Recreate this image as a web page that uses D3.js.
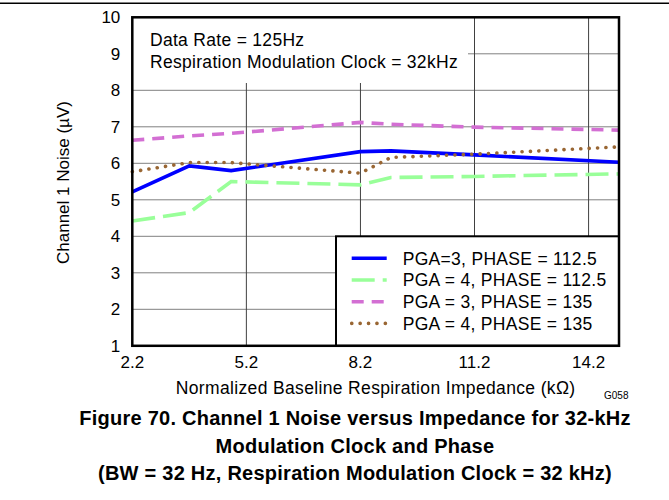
<!DOCTYPE html>
<html>
<head>
<meta charset="utf-8">
<script src="https://cdn.jsdelivr.net/npm/d3@7"></script>
<style>
  body { margin: 0; background: #fff; }
  svg { font-family: "Liberation Sans", Arial, sans-serif; }
</style>
</head>
<body>
<div id="chart"></div>
<script>
// values
var xTicks = [2.2, 5.2, 8.2, 11.2, 14.2];
var yTicks = [1, 2, 3, 4, 5, 6, 7, 8, 9, 10];
var impedance = [2.2, 3.7, 4.8, 8.2, 9.0, 11.2, 15.0];
var pga3Phase112 = [5.22, 5.93, 5.80, 6.32, 6.34, 6.23, 6.03];
var pga4Phase112 = [4.42, 4.65, 5.50, 5.41, 5.61, 5.64, 5.71];
var pga3Phase135 = [6.63, 6.75, 6.82, 7.12, 7.07, 6.99, 6.91];
var pga4Phase135 = [5.77, 6.02, 6.02, 5.73, 6.16, 6.25, 6.45];
var seriesNames = ["PGA=3, PHASE = 112.5", "PGA = 4, PHASE = 112.5", "PGA = 3, PHASE = 135", "PGA = 4, PHASE = 135"];

var series = [
  {name: seriesNames[0], values: pga3Phase112, color: "#0000ff", dash: null, cap: "butt"},
  {name: seriesNames[1], values: pga4Phase112, color: "#99ff99", dash: "23,8", cap: "butt"},
  {name: seriesNames[2], values: pga3Phase135, color: "#d36fd3", dash: "12,8", cap: "butt"},
  {name: seriesNames[3], values: pga4Phase135, color: "#996633", dash: "0.1,8.3", cap: "round"}
];

var W = 669, H = 500;
var margin = {top: 17.3, left: 132.3, right: 50, bottom: 154.2},
  width = W - margin.left - margin.right,
  height = H - margin.top - margin.bottom;

var svg = d3.select("#chart").append("svg")
  .attr("width", W)
  .attr("height", H);

// top rule of the page
svg.append("line")
  .attr("x1", 0).attr("x2", W)
  .attr("y1", 3.3).attr("y2", 3.3)
  .attr("stroke", "#000").attr("stroke-width", 1.6);

var xScale = d3.scaleLinear().domain([2.2, 15]).range([0, width]),
  yScale = d3.scaleLinear().domain([1, 10]).range([height, 0]);

var g = svg.append("g")
  .attr("transform", "translate(" + margin.left + "," + margin.top + ")");

// grid
g.append("g").selectAll("line")
  .data(yTicks.slice(1, -1)).enter().append("line")
    .attr("x1", 0).attr("x2", width)
    .attr("y1", d => yScale(d)).attr("y2", d => yScale(d))
    .attr("stroke", "#808080").attr("stroke-width", 1);
g.append("g").selectAll("line")
  .data(xTicks.slice(1)).enter().append("line")
    .attr("x1", d => xScale(d)).attr("x2", d => xScale(d))
    .attr("y1", 0).attr("y2", height)
    .attr("stroke", "#404040").attr("stroke-width", 1);

// white note box over the grid
g.append("rect")
  .attr("x", 0).attr("y", 0)
  .attr("width", 468 - margin.left).attr("height", 83 - margin.top)
  .attr("fill", "#fff");
g.append("text").attr("x", 150 - margin.left).attr("y", 46.5 - margin.top)
  .attr("font-size", 17.5).attr("letter-spacing", 0.3).text("Data Rate = 125Hz");
g.append("text").attr("x", 150 - margin.left).attr("y", 68.3 - margin.top)
  .attr("font-size", 17.5).attr("letter-spacing", 0.3).text("Respiration Modulation Clock = 32kHz");

// lines
var line = d3.line()
  .x((d, i) => xScale(impedance[i]))
  .y(d => yScale(d));

series.forEach(function(s) {
  g.append("path")
    .datum(s.values)
    .attr("fill", "none")
    .attr("stroke", s.color)
    .attr("stroke-width", 3.6)
    .attr("stroke-linecap", s.cap)
    .attr("stroke-dasharray", s.dash)
    .attr("d", line);
});

// legend
var legX = 336 - margin.left;
var lg = g.append("g").attr("transform", "translate(" + legX + "," + yScale(4) + ")");
lg.append("rect")
  .attr("x", 0).attr("y", 0)
  .attr("width", width - legX).attr("height", height - yScale(4))
  .attr("fill", "#fff").attr("stroke", "#000").attr("stroke-width", 2);
series.forEach(function(s, i) {
  var y = 22 + i * 21.7;
  lg.append("line")
    .attr("x1", 15.7).attr("x2", 50.7)
    .attr("y1", y).attr("y2", y)
    .attr("stroke", s.color)
    .attr("stroke-width", 3.6)
    .attr("stroke-linecap", s.cap)
    .attr("stroke-dasharray", s.dash);
  lg.append("text")
    .attr("x", 66.7).attr("y", y + 6.3)
    .attr("font-size", 17.5)
    .attr("letter-spacing", 0.3)
    .text(s.name);
});

// frame
g.append("rect")
  .attr("x", 0).attr("y", 0)
  .attr("width", width).attr("height", height)
  .attr("fill", "none").attr("stroke", "#000").attr("stroke-width", 2.5);

// axes labels
g.append("g").selectAll("text")
  .data(yTicks).enter().append("text")
    .attr("x", -12)
    .attr("y", d => yScale(d) + 6)
    .attr("text-anchor", "end")
    .attr("font-size", 17)
    .text(d => d);
g.append("g").selectAll("text")
  .data(xTicks).enter().append("text")
    .attr("x", d => xScale(d))
    .attr("y", height + 22.5)
    .attr("text-anchor", "middle")
    .attr("font-size", 17)
    .text(d => d3.format(".1f")(d));

g.append("text")
  .attr("x", width / 2)
  .attr("y", height + 48)
  .attr("text-anchor", "middle")
  .attr("font-size", 17.5)
  .attr("letter-spacing", 0.35)
  .text("Normalized Baseline Respiration Impedance (kΩ)");

g.append("text")
  .attr("transform", "translate(" + (69 - margin.left) + "," + (height / 2 + 1) + ") rotate(-90)")
  .attr("text-anchor", "middle")
  .attr("font-size", 17)
  .text("Channel 1 Noise (µV)");

svg.append("text")
  .attr("x", 604).attr("y", 399)
  .attr("font-size", 10)
  .text("G058");

// caption
var caption = ["Figure 70. Channel 1 Noise versus Impedance for 32-kHz",
  "Modulation Clock and Phase",
  "(BW = 32 Hz, Respiration Modulation Clock = 32 kHz)"];
svg.append("g").selectAll("text")
  .data(caption).enter().append("text")
    .attr("x", 355)
    .attr("y", (d, i) => 425 + i * 27.5)
    .attr("text-anchor", "middle")
    .attr("font-size", 20)
    .attr("letter-spacing", 0.25)
    .attr("font-weight", "bold")
    .text(d => d);
</script>
</body>
</html>
